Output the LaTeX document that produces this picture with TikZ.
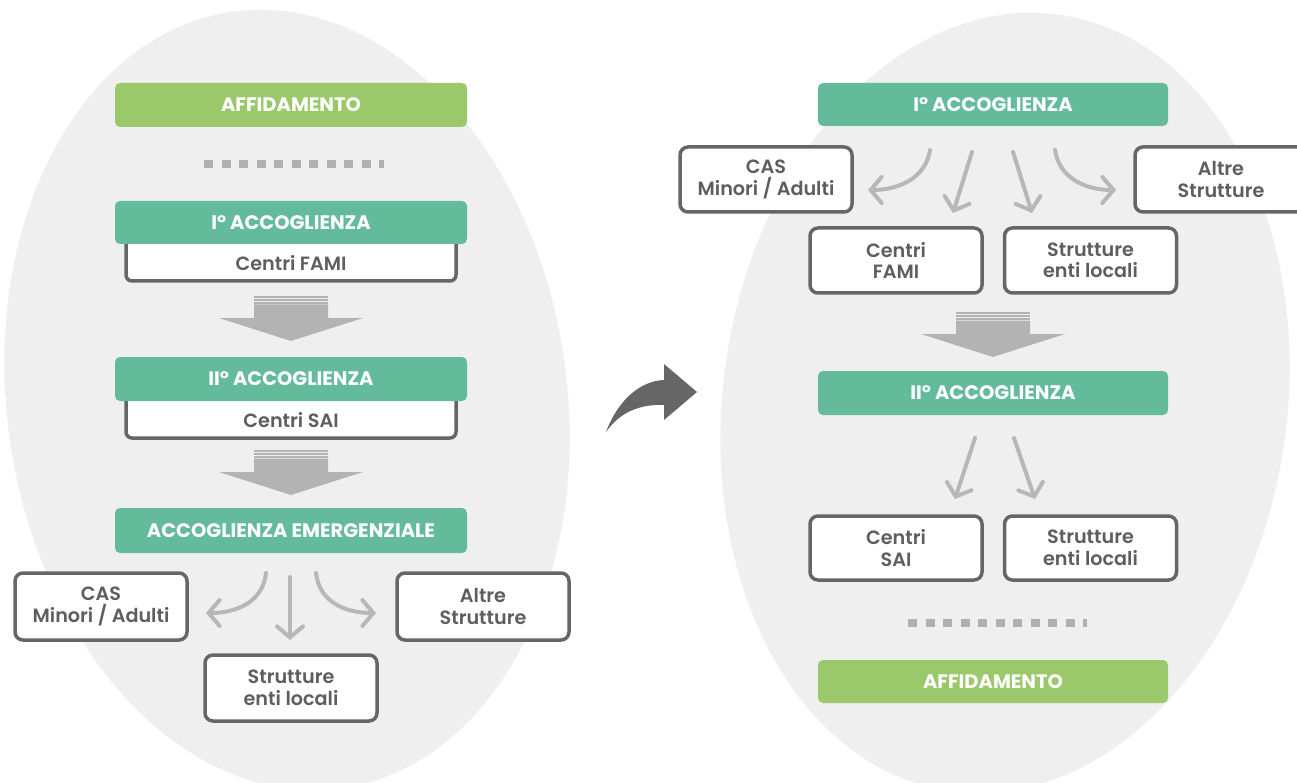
\documentclass[tikz,border=0pt]{standalone}
\usepackage{fontspec}
\setmainfont{Poppins}[BoldFont={Poppins SemiBold}]
\newfontfamily\hdrfont{Poppins Bold}
\usetikzlibrary{arrows.meta}
\definecolor{bgell}{HTML}{EFEFEF}
\definecolor{accteal}{HTML}{64BB9B}
\definecolor{accgreen}{HTML}{9AC86A}
\definecolor{boxborder}{HTML}{666666}
\definecolor{boxtxt}{HTML}{5E5E5E}
\definecolor{arrgray}{HTML}{B7B7B7}
\definecolor{blockgray}{HTML}{B3B3B3}
\definecolor{dotgray}{HTML}{B0B0B0}
\definecolor{bigarrow}{HTML}{666666}
\tikzset{
  hdr/.style={fill=accteal, rounded corners=5pt, minimum width=352pt, minimum height=44pt,
    text=white, font=\fontsize{19.5}{22}\selectfont\hdrfont, inner sep=0pt},
  hdrgreen/.style={hdr, fill=accgreen},
  wbox/.style={draw=boxborder, line width=3.5pt, fill=white, rounded corners=8pt,
    minimum width=172pt, minimum height=66pt, text=boxtxt,
    font=\fontsize{19.2}{21.5}\selectfont\bfseries, align=center, inner sep=0pt},
  ubox/.style={wbox, minimum width=330pt, minimum height=49pt, rounded corners=6pt},
  thinarr/.style={draw=arrgray, line width=4pt, line cap=round,
    -{Straight Barb[length=11pt,width=26pt,line cap=round]}},
  dotline/.style={draw=dotgray, line width=8pt, dash pattern=on 9pt off 8.5pt},
  blockdown/.pic={
    \fill[blockgray] (-37,8.5) -- (37,8.5) -- (37,22) -- (72,22) -- (0,45) -- (-72,22) -- (-37,22) -- cycle;
    \foreach \yy in {0.8,3.8,6.8} \draw[blockgray, line width=1.5pt] (-37,\yy) -- (37,\yy);
  },
}
\begin{document}
\begin{tikzpicture}[x=1pt,y=-1pt]
\clip (0,0) rectangle (1297,783);
\fill[white] (0,0) rectangle (1297,783);
% background ellipses
\fill[bgell, rotate around={8:(287,400)}] (287,400) ellipse [x radius=280, y radius=392];
\fill[bgell, rotate around={-8:(1005,403)}] (1005,403) ellipse [x radius=282, y radius=392];

% ===== left column =====
\node[hdrgreen] (affL) at (291,105) {AFFIDAMENTO};
\coordinate (dotL1) at (204,164);
\coordinate (dotL2) at (384,164);
\draw[dotline] (dotL1) -- (dotL2);

\node[ubox] (famiL) at (291,256.5) {\raisebox{-6.5pt}[\height][\depth]{Centri FAMI}};
\node[hdr, minimum height=43pt] (acc1L) at (291,222.5) {I° ACCOGLIENZA};
\pic at (291,296) {blockdown};

\node[ubox] (saiL) at (291,413.5) {\raisebox{-6.5pt}[\height][\depth]{Centri SAI}};
\node[hdr] (acc2L) at (291,379) {II° ACCOGLIENZA};
\pic at (291,450) {blockdown};

\node[hdr, minimum height=45pt] (emergL) at (291,530.5) {ACCOGLIENZA EMERGENZIALE};

\node[wbox, minimum height=67pt] (casL) at (101,606.5) {CAS\\Minori / Adulti};
\node[wbox, minimum height=67pt] (altreL) at (483,606.5) {Altre\\Strutture};
\node[wbox] (entiL) at (291,688) {Strutture\\enti locali};

\coordinate (lc1s) at (266,573);
\coordinate (lc1e) at (206,613);
\coordinate (lc2s) at (290,577);
\coordinate (lc2e) at (290,640);
\coordinate (lc3s) at (316,573);
\coordinate (lc3e) at (376,613);
\draw[thinarr] (lc1s) .. controls (263,601) and (238,613) .. (lc1e);
\draw[thinarr] (lc2s) -- (lc2e);
\draw[thinarr] (lc3s) .. controls (319,601) and (344,613) .. (lc3e);

% ===== curved arrow between =====
\fill[bigarrow] (606,432) .. controls (618,400) and (640,381) .. (664,380) -- (664,364) -- (697,392)
  -- (664,420) -- (664,405) .. controls (640,404) and (620,412) .. (606,432) -- cycle;

% ===== right column =====
\node[hdr, minimum width=350pt, minimum height=43pt] (acc1R) at (993,104.5) {I° ACCOGLIENZA};
\node[wbox, minimum height=65pt] (casR) at (766,179.5) {CAS\\Minori / Adulti};
\node[wbox, minimum height=65pt] (altreR) at (1221,179.5) {Altre\\Strutture};
\node[wbox, minimum height=65pt] (famiR) at (896,260.5) {Centri\\FAMI};
\node[wbox, minimum height=65pt] (entiR1) at (1090.5,260.5) {Strutture\\enti locali};

\coordinate (rc1s) at (930,150);
\coordinate (rc1e) at (868,190);
\coordinate (rc2s) at (972,152);
\coordinate (rc2e) at (953,213);
\coordinate (rc3s) at (1013,152);
\coordinate (rc3e) at (1032,213);
\coordinate (rc4s) at (1055,150);
\coordinate (rc4e) at (1116,190);
\draw[thinarr] (rc1s) .. controls (926,177) and (900,190) .. (rc1e);
\draw[thinarr] (rc2s) -- (rc2e);
\draw[thinarr] (rc3s) -- (rc3e);
\draw[thinarr] (rc4s) .. controls (1059,177) and (1084,190) .. (rc4e);

\pic at (993,312) {blockdown};

\node[hdr, minimum width=350pt] (acc2R) at (993,393) {II° ACCOGLIENZA};
\coordinate (rd1s) at (975,438);
\coordinate (rd1e) at (955,499);
\coordinate (rd2s) at (1014,438);
\coordinate (rd2e) at (1035,499);
\draw[thinarr] (rd1s) -- (rd1e);
\draw[thinarr] (rd2s) -- (rd2e);

\node[wbox, minimum height=64pt] (saiR) at (896,548) {Centri\\SAI};
\node[wbox, minimum height=64pt] (entiR2) at (1090.5,548) {Strutture\\enti locali};

\coordinate (dotR1) at (908,623);
\coordinate (dotR2) at (1087,623);
\draw[dotline] (dotR1) -- (dotR2);

\node[hdrgreen, minimum width=350pt, minimum height=43pt] (affR) at (993,681.5) {AFFIDAMENTO};
\end{tikzpicture}
\end{document}
